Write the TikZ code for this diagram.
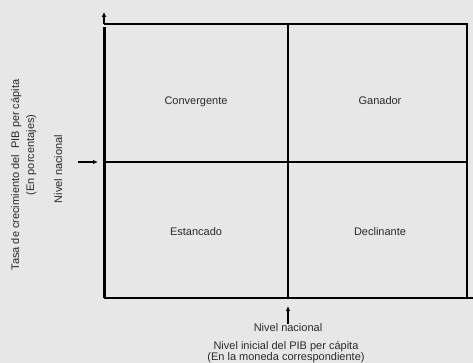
\documentclass[tikz,border=0pt]{standalone}
\usepackage{fontspec}
\setmainfont{Liberation Sans}
\usetikzlibrary{arrows.meta}
\definecolor{bg}{HTML}{E6E7E6}
\definecolor{txt}{HTML}{2A2A2A}
\begin{document}
\begin{tikzpicture}[x=1pt,y=-1pt,
  lab/.style={font=\fontsize{11}{12}\selectfont, text=txt, inner sep=0pt, anchor=base},
  rlab/.style={lab, rotate=90},
  frame/.style={draw=black, line width=2pt},
  mid/.style={draw=black, line width=1.5pt},
  axarrow/.style={draw=black, line width=1.3pt, -{Latex[length=5pt,width=4.5pt]}}]
\fill[bg] (0,0) rectangle (473,363);
\useasboundingbox (0,0) rectangle (473,363);
% corners
\coordinate (tl) at (104,24);
\coordinate (tr) at (467,24);
\coordinate (bl) at (104,298);
\coordinate (br) at (467,298);
\coordinate (mt) at (288,24);
\coordinate (mb) at (288,298);
\coordinate (ml) at (104,162);
\coordinate (mr) at (467,162);
\coordinate (ytip) at (104,12);
\coordinate (xend) at (473,298);
% frame
\draw[frame] (tl) -- (tr) -- (br);
\draw[frame] (bl) -- (xend);
\draw[mid] (mt) -- (mb);
\draw[mid] (ml) -- (mr);
\draw[draw=black, line width=3pt] (bl) -- ([yshift=-3pt]tl);
\draw[draw=black, line width=1.3pt, -{Latex[length=5pt,width=5pt]}] (tl) -- (ytip);
% level arrows
\coordinate (la0) at (78,162);
\coordinate (la1) at (98,162);
\draw[axarrow] (la0) -- (la1);
\coordinate (ba0) at (288,324);
\coordinate (ba1) at (288,306);
\draw[axarrow] (ba0) -- (ba1);
% quadrant labels
\node[lab] (q1) at (196,105) {Convergente};
\node[lab] (q2) at (380,105) {Ganador};
\node[lab] (q3) at (196,235) {Estancado};
\node[lab] (q4) at (380,235) {Declinante};
% bottom labels
\node[lab] (bn) at (288,331) {Nivel nacional};
\node[lab] (bx1) at (286,349) {Nivel inicial del PIB per cápita};
\node[lab] (bx2) at (286,360) {(En la moneda correspondiente)};
% left labels
\node[rlab] (ly1) at (19,175) {Tasa de crecimiento del\ \ PIB per cápita};
\node[rlab] (ly2) at (34,155) {(En porcentajes)};
\node[rlab] (ln) at (62,169) {Nivel nacional};
\end{tikzpicture}
\end{document}
